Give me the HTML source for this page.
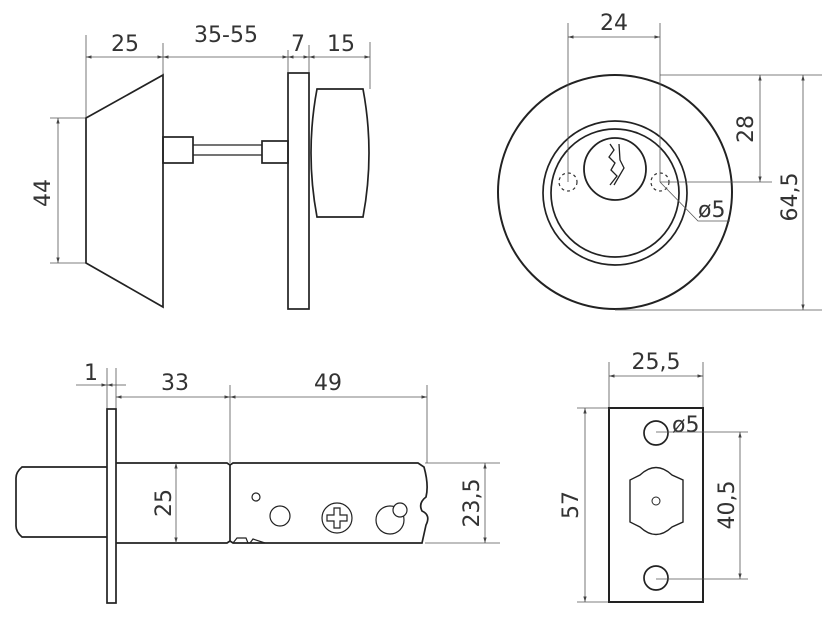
<!DOCTYPE html>
<html><head><meta charset="utf-8"><style>
html,body{margin:0;padding:0;background:#fff}
svg{display:block}
text{font-family:"DejaVu Sans","Liberation Sans",sans-serif;fill:#333;font-size:22px}
.o{fill:none;stroke:#222;stroke-width:1.7}
.d{fill:none;stroke:#555;stroke-width:0.8}
</style></head><body>
<svg width="838" height="619" viewBox="0 0 838 619" xmlns="http://www.w3.org/2000/svg">
<defs><marker id="a" viewBox="0 0 10 10" refX="10" refY="5" markerWidth="7" markerHeight="7" orient="auto-start-reverse"><path d="M0,2 L10,5 L0,8z" fill="#444"/></marker></defs>

<!-- TOP LEFT -->
<line class="d" x1="86" y1="35" x2="86" y2="118"/>
<line class="d" x1="163" y1="43" x2="163" y2="75"/>
<line class="d" x1="288" y1="50" x2="288" y2="73"/>
<line class="d" x1="309" y1="45" x2="309" y2="73"/>
<line class="d" x1="370" y1="42" x2="370" y2="89"/>
<line class="d" x1="86" y1="57" x2="163" y2="57" marker-start="url(#a)" marker-end="url(#a)"/>
<line class="d" x1="163" y1="57" x2="288" y2="57" marker-start="url(#a)" marker-end="url(#a)"/>
<line class="d" x1="288" y1="57" x2="309" y2="57" marker-start="url(#a)" marker-end="url(#a)"/>
<line class="d" x1="309" y1="57" x2="370" y2="57" marker-start="url(#a)" marker-end="url(#a)"/>
<text x="125" y="51" text-anchor="middle">25</text>
<text x="226" y="42" text-anchor="middle">35-55</text>
<text x="298" y="51" text-anchor="middle">7</text>
<text x="341" y="51" text-anchor="middle">15</text>
<line class="d" x1="50" y1="118" x2="86" y2="118"/>
<line class="d" x1="50" y1="263" x2="86" y2="263"/>
<line class="d" x1="58" y1="118" x2="58" y2="263" marker-start="url(#a)" marker-end="url(#a)"/>
<text transform="translate(50,193) rotate(-90)" text-anchor="middle">44</text>
<path class="o" d="M86,118 L163,75 L163,307 L86,263 Z"/>
<rect class="o" x="163" y="137" width="30" height="26"/>
<line class="o" x1="193" y1="145" x2="262" y2="145" style="stroke-width:1.2"/>
<line class="o" x1="193" y1="155" x2="262" y2="155" style="stroke-width:1.2"/>
<rect class="o" x="262" y="141" width="26" height="22"/>
<rect class="o" x="288" y="73" width="21" height="236"/>
<path class="o" d="M317,89 L363,89 Q375,153 363,217 L317,217 Q305,153 317,89 Z"/>

<!-- TOP RIGHT -->
<circle class="o" cx="615" cy="192" r="117" style="stroke-width:2"/>
<circle class="o" cx="615" cy="193" r="72"/>
<circle class="o" cx="615" cy="193" r="64"/>
<circle class="o" cx="615" cy="169" r="31" style="stroke-width:1.8"/>
<path class="o" d="M610,144 L614,150 L609,157 L615,163 L611,170 L617,176 L610,185 M619,144 L620,160 L624,168 L614,185" style="stroke-width:1.3"/>
<circle cx="568" cy="182" r="9" fill="none" stroke="#333" stroke-width="1.2" stroke-dasharray="3,3"/>
<circle cx="660" cy="182" r="9" fill="none" stroke="#333" stroke-width="1.2" stroke-dasharray="3,3"/>
<line class="d" x1="568" y1="23" x2="568" y2="182"/>
<line class="d" x1="660" y1="23" x2="660" y2="182"/>
<line class="d" x1="568" y1="37" x2="660" y2="37" marker-start="url(#a)" marker-end="url(#a)"/>
<text x="614" y="30" text-anchor="middle">24</text>
<line class="d" x1="660" y1="75" x2="822" y2="75"/>
<line class="d" x1="660" y1="182" x2="772" y2="182"/>
<line class="d" x1="615" y1="310" x2="822" y2="310"/>
<line class="d" x1="760" y1="75" x2="760" y2="182" marker-start="url(#a)" marker-end="url(#a)"/>
<line class="d" x1="803" y1="75" x2="803" y2="310" marker-start="url(#a)" marker-end="url(#a)"/>
<text transform="translate(753,129) rotate(-90)" text-anchor="middle">28</text>
<text transform="translate(797,197) rotate(-90)" text-anchor="middle">64,5</text>
<polyline class="d" points="660,182 698,221 730,221"/>
<text x="698" y="217">ø5</text>

<!-- BOTTOM LEFT -->
<line class="d" x1="107" y1="368" x2="107" y2="409"/>
<line class="d" x1="116" y1="368" x2="116" y2="409"/>
<line class="d" x1="76" y1="385" x2="107" y2="385" marker-end="url(#a)"/>
<line class="d" x1="116" y1="385" x2="126" y2="385"/>
<line class="d" x1="107" y1="385" x2="116" y2="385" marker-start="url(#a)"/>
<text x="84" y="380">1</text>
<line class="d" x1="230" y1="385" x2="230" y2="463"/>
<line class="d" x1="427" y1="385" x2="427" y2="463"/>
<line class="d" x1="116" y1="397" x2="230" y2="397" marker-start="url(#a)" marker-end="url(#a)"/>
<line class="d" x1="230" y1="397" x2="427" y2="397" marker-start="url(#a)" marker-end="url(#a)"/>
<text x="175" y="390" text-anchor="middle">33</text>
<text x="328" y="390" text-anchor="middle">49</text>
<rect class="o" x="107" y="409" width="9" height="194"/>
<path class="o" d="M107,467 L22,467 Q16,472 16,478 L16,526 Q16,532 22,537 L107,537"/>
<path class="o" d="M116,463 L227,463 L230,465 L233,463 L418,463 L424,467 Q429,485 426,497 Q418,503 422,511 Q431,515 426,525 L422,543 L233,543 L230,541 L227,543 L116,543"/>
<line class="o" x1="230" y1="465" x2="230" y2="541"/>
<path class="o" d="M233,543 L237,538 L246,538 L248,543 M250,543 L253,539 L265,543" style="stroke-width:1.2"/>
<line class="d" x1="176" y1="463" x2="176" y2="543" marker-start="url(#a)" marker-end="url(#a)"/>
<text transform="translate(171,503) rotate(-90)" text-anchor="middle">25</text>
<line class="d" x1="425" y1="463" x2="500" y2="463"/>
<line class="d" x1="425" y1="543" x2="500" y2="543"/>
<line class="d" x1="485" y1="463" x2="485" y2="543" marker-start="url(#a)" marker-end="url(#a)"/>
<text transform="translate(479,503) rotate(-90)" text-anchor="middle">23,5</text>
<circle class="o" cx="256" cy="497" r="4" style="stroke-width:1.2"/>
<circle class="o" cx="280" cy="516" r="10" style="stroke-width:1.2"/>
<circle class="o" cx="337" cy="518" r="15" style="stroke-width:1.2"/>
<path class="o" d="M334,508 h6 v7 h7 v6 h-7 v7 h-6 v-7 h-7 v-6 h7 z" style="stroke-width:1.2"/>
<circle class="o" cx="390" cy="520" r="14" style="stroke-width:1.2"/>
<circle class="o" cx="400" cy="510" r="7" style="stroke-width:1.2;fill:#fff"/>

<!-- BOTTOM RIGHT -->
<line class="d" x1="609" y1="362" x2="609" y2="408"/>
<line class="d" x1="703" y1="362" x2="703" y2="408"/>
<line class="d" x1="609" y1="376" x2="703" y2="376" marker-start="url(#a)" marker-end="url(#a)"/>
<text x="656" y="369" text-anchor="middle">25,5</text>
<line class="d" x1="577" y1="408" x2="609" y2="408"/>
<line class="d" x1="577" y1="602" x2="609" y2="602"/>
<line class="d" x1="585" y1="408" x2="585" y2="602" marker-start="url(#a)" marker-end="url(#a)"/>
<text transform="translate(578,505) rotate(-90)" text-anchor="middle">57</text>
<rect class="o" x="609" y="408" width="94" height="194" style="stroke-width:2"/>
<circle class="o" cx="656" cy="433" r="12"/>
<circle class="o" cx="656" cy="578" r="12"/>
<path class="o" d="M640,475 Q656,460 672,475 L683,480 L683,522 L672,527 Q656,542 640,527 L630,522 L630,480 Z" style="stroke-width:1.4"/>
<circle class="o" cx="656" cy="501" r="4" style="stroke-width:1"/>
<text x="672" y="432">ø5</text>
<line class="d" x1="656" y1="432" x2="748" y2="432"/>
<line class="d" x1="656" y1="579" x2="748" y2="579"/>
<line class="d" x1="740" y1="432" x2="740" y2="579" marker-start="url(#a)" marker-end="url(#a)"/>
<text transform="translate(734,505) rotate(-90)" text-anchor="middle">40,5</text>
</svg>
</body></html>
